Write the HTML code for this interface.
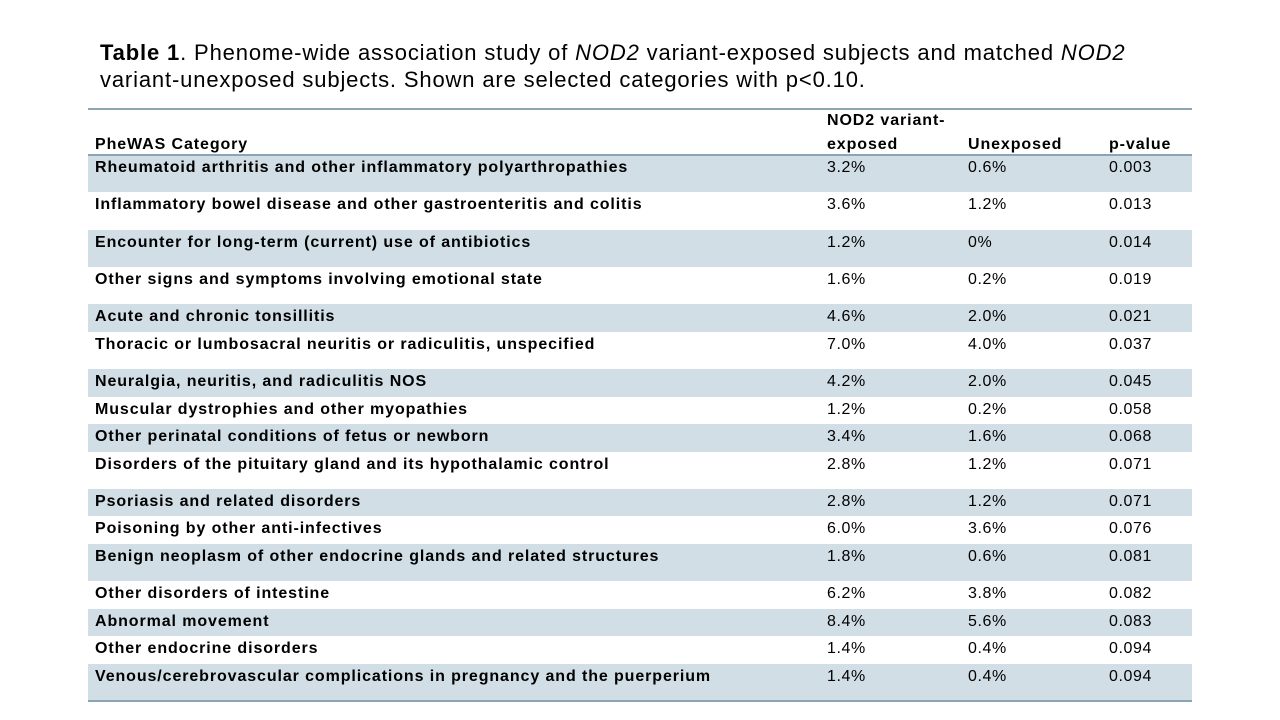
<!DOCTYPE html>
<html><head><meta charset="utf-8"><style>
body{margin:0;width:1280px;height:720px;background:#fff;position:relative;overflow:hidden;font-family:"Liberation Sans",sans-serif;color:#000}
.t{position:absolute;font-size:22px;letter-spacing:0.85px;left:100px;white-space:nowrap;line-height:26px}
.c{position:absolute;font-size:16px;letter-spacing:0.6px;white-space:nowrap;line-height:24px}
.b{font-weight:bold;letter-spacing:0.9px}
.row{position:absolute;left:88px;width:1104px}
.line{position:absolute;left:88px;width:1104px;background:#8ba5b6}
</style></head><body>
<div class="t" style="top:40px"><b>Table 1</b>. Phenome-wide association study of <i>NOD2</i> variant-exposed subjects and matched <i>NOD2</i></div>
<div class="t" style="top:67px">variant-unexposed subjects. Shown are selected categories with p&lt;0.10.</div>
<div class="line" style="top:108px;height:2px"></div>
<div class="c b" style="left:95px;top:133px">PheWAS Category</div>
<div class="c b" style="left:827px;top:109px">NOD2 variant-<br>exposed</div>
<div class="c b" style="left:968px;top:133px">Unexposed</div>
<div class="c b" style="left:1109px;top:133px">p-value</div>
<div id="rows"></div>
<div class="line" style="top:154px;height:2px"></div>
<div class="line" style="top:700px;height:2px"></div>
<script>
const categories=["Rheumatoid arthritis and other inflammatory polyarthropathies","Inflammatory bowel disease and other gastroenteritis and colitis","Encounter for long-term (current) use of antibiotics","Other signs and symptoms involving emotional state","Acute and chronic tonsillitis","Thoracic or lumbosacral neuritis or radiculitis, unspecified","Neuralgia, neuritis, and radiculitis NOS","Muscular dystrophies and other myopathies","Other perinatal conditions of fetus or newborn","Disorders of the pituitary gland and its hypothalamic control","Psoriasis and related disorders","Poisoning by other anti-infectives","Benign neoplasm of other endocrine glands and related structures","Other disorders of intestine","Abnormal movement","Other endocrine disorders","Venous/cerebrovascular complications in pregnancy and the puerperium"];
const exposed=["3.2%","3.6%","1.2%","1.6%","4.6%","7.0%","4.2%","1.2%","3.4%","2.8%","2.8%","6.0%","1.8%","6.2%","8.4%","1.4%","1.4%"];
const unexposed=["0.6%","1.2%","0%","0.2%","2.0%","4.0%","2.0%","0.2%","1.6%","1.2%","1.2%","3.6%","0.6%","3.8%","5.6%","0.4%","0.4%"];
const pvalues=["0.003","0.013","0.014","0.019","0.021","0.037","0.045","0.058","0.068","0.071","0.071","0.076","0.081","0.082","0.083","0.094","0.094"];
const rowBounds=[155,192,230,267,304,332,369,397,424,452,489,516,544,581,609,636,664,701];
const host=document.getElementById('rows');
categories.forEach((cat,i)=>{
  const top=rowBounds[i],h=rowBounds[i+1]-top;
  const r=document.createElement('div');
  r.className='row';
  r.style.top=top+'px';r.style.height=h+'px';
  r.style.background=(i%2===0)?'#d1dee6':'#fff';
  
  
  host.appendChild(r);
  const cells=[[cat,95,true],[exposed[i],827,false],[unexposed[i],968,false],[pvalues[i],1109,false]];
  cells.forEach(([txt,x,bold],j)=>{
    const c=document.createElement('div');
    c.className='c'+(bold?' b':'');
    c.style.left=x+'px';c.style.top=(top+1)+'px';
    c.textContent=txt;
    
    
    host.appendChild(c);
  });
});
</script>
</body></html>
